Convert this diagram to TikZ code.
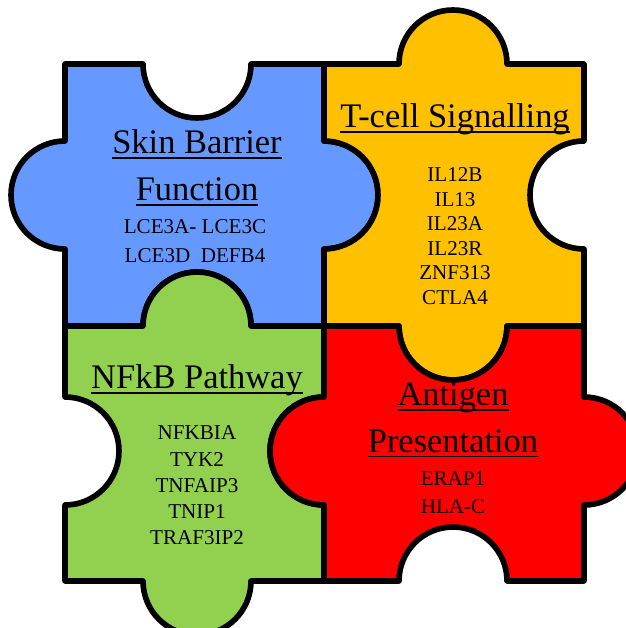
\documentclass[tikz,border=0pt]{standalone}
\usepackage{fontspec}
\setmainfont{Liberation Serif}
\definecolor{pieceblue}{RGB}{102, 153, 255}
\definecolor{pieceyellow}{RGB}{255, 192, 0}
\definecolor{piecegreen}{RGB}{146, 208, 80}
\definecolor{piecered}{RGB}{255, 0, 0}
\usetikzlibrary{positioning}
\newcommand{\ttlline}[1]{\setbox0\hbox{#1}\dp0=0pt\vtop{\box0\kern2.6pt\hrule height 1pt}}

\begin{document}
\begin{tikzpicture}[x=0.025cm, y=-0.025cm,
  piece/.style={draw=black, line width=4pt, line join=round},
  ttl/.style={font=\fontsize{24.5}{33.3}\selectfont, align=center, inner sep=0pt, anchor=north},
  genes/.style={font=\fontsize{15}{#1}\selectfont, align=center, inner sep=0pt, anchor=north}
]
  \useasboundingbox (0,0) rectangle (625,628);
  \draw[piece, fill=pieceblue] (65,64) -- (143,64) arc[start angle=180, end angle=0, radius=54] -- (324,64) -- (324,141) arc[start angle=-90, end angle=90, radius=54] -- (324,326) -- (251,326) arc[start angle=0, end angle=-180, radius=54] -- (65,326) -- (65,249) arc[start angle=90, end angle=270, radius=54] -- cycle;
  \draw[piece, fill=pieceyellow] (324,64) -- (399,64) arc[start angle=180, end angle=360, radius=54] -- (584,64) -- (584,141) arc[start angle=-90, end angle=-270, radius=54] -- (584,326) -- (507,326) arc[start angle=0, end angle=180, radius=54] -- (324,326) -- (324,249) arc[start angle=90, end angle=-90, radius=54] -- cycle;
  \draw[piece, fill=piecegreen] (65,326) -- (143,326) arc[start angle=180, end angle=360, radius=54] -- (324,326) -- (324,397) arc[start angle=-90, end angle=-270, radius=54] -- (324,581) -- (251,581) arc[start angle=0, end angle=180, radius=54] -- (65,581) -- (65,505) arc[start angle=90, end angle=-90, radius=54] -- cycle;
  \draw[piece, fill=piecered] (324,326) -- (399,326) arc[start angle=180, end angle=0, radius=54] -- (584,326) -- (584,397) arc[start angle=-90, end angle=90, radius=54] -- (584,581) -- (507,581) arc[start angle=0, end angle=-180, radius=54] -- (324,581) -- (324,505) arc[start angle=90, end angle=270, radius=54] -- cycle;

  \node[ttl] (skin) at (197,129.5) {\ttlline{Skin Barrier}\\\ttlline{Function}};
  \node[genes=20.5pt] (skingenes) at (195,219.7) {LCE3A- LCE3C\\LCE3D~~DEFB4};
  \node[ttl] (tcell) at (455,103.4) {\ttlline{T-cell Signalling}};
  \node[genes=17.4pt] (tcellgenes) at (455,167.7) {IL12B\\IL13\\IL23A\\IL23R\\ZNF313\\CTLA4};
  \node[ttl] (nfkb) at (197,364.5) {\ttlline{NFkB Pathway}};
  \node[genes=18.6pt] (nfkbgenes) at (197,425.7) {NFKBIA\\TYK2\\TNFAIP3\\TNIP1\\TRAF3IP2};
  \node[ttl] (antigen) at (453,382.5) {\ttlline{Antigen}\\\ttlline{Presentation}};
  \node[genes=19.8pt] (antigengenes) at (453,471.7) {ERAP1\\HLA-C};
\end{tikzpicture}
\end{document}
